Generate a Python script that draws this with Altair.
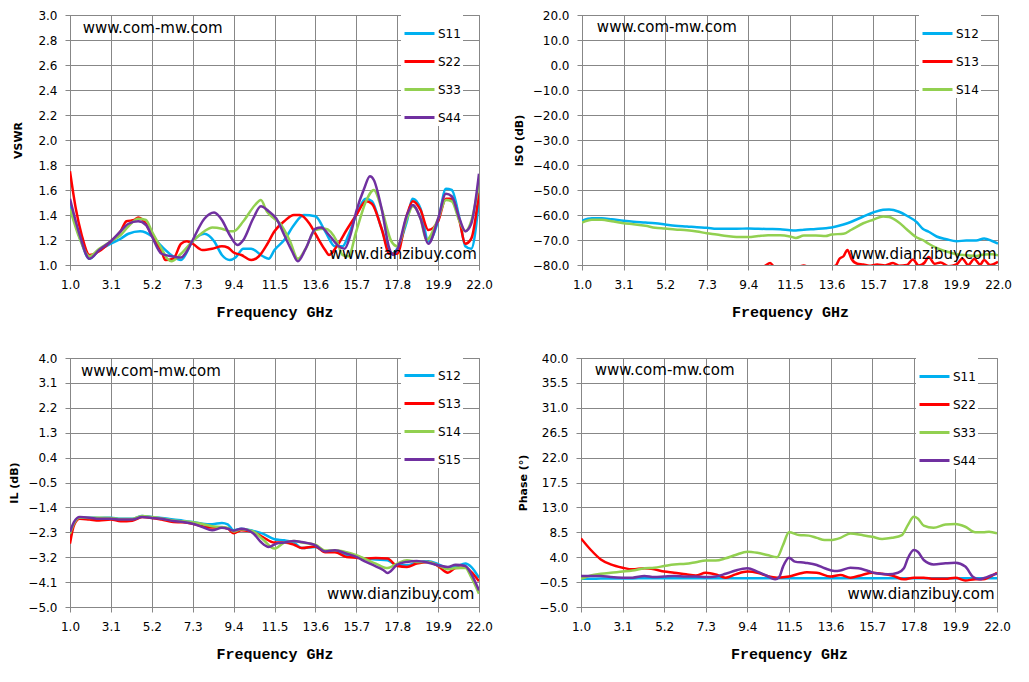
import altair as alt
import pandas as pd

# ---------------- axis ticks ----------------
X_TICKS = [1.0, 3.1, 5.2, 7.3, 9.4, 11.5, 13.6, 15.7, 17.8, 19.9, 22.0]
VSWR_TICKS = [1.0, 1.2, 1.4, 1.6, 1.8, 2.0, 2.2, 2.4, 2.6, 2.8, 3.0]
ISO_TICKS = [-80, -70, -60, -50, -40, -30, -20, -10, 0, 10, 20]
IL_TICKS = [-5.0, -4.1, -3.2, -2.3, -1.4, -0.5, 0.4, 1.3, 2.2, 3.1, 4.0]
PH_TICKS = [-5.0, -0.5, 4.0, 8.5, 13.0, 17.5, 22.0, 26.5, 31.0, 35.5, 40.0]

BLUE, RED, GREEN, PURPLE = "#00B0F0", "#FF0000", "#92D050", "#7030A0"

# ---------------- VSWR ----------------
VSWR_S11_F = [1.0, 1.5, 2.0, 2.5, 3.1, 3.6, 4.0, 4.6, 5.2, 5.7, 6.2, 6.7, 7.3, 7.9, 8.4, 8.8, 9.2, 9.5,
              9.9, 10.3, 10.9, 11.2, 11.5, 12.0, 12.5, 13.0, 13.6, 14.1, 14.6, 15.0, 15.3, 15.7, 16.2,
              16.5, 17.0, 17.5, 17.8, 18.3, 18.6, 19.0, 19.4, 19.9, 20.3, 20.6, 21.0, 21.3, 21.6, 22.0]
VSWR_S11 = [1.47, 1.22, 1.05, 1.12, 1.17, 1.21, 1.25, 1.27, 1.23, 1.15, 1.08, 1.04, 1.19, 1.25, 1.19,
            1.08, 1.04, 1.06, 1.13, 1.13, 1.07, 1.05, 1.12, 1.20, 1.32, 1.40, 1.39, 1.27, 1.15, 1.15,
            1.24, 1.40, 1.53, 1.51, 1.29, 1.09, 1.13, 1.35, 1.53, 1.45, 1.19, 1.35, 1.61, 1.60, 1.37,
            1.15, 1.13, 1.52]
VSWR_S22_F = [1.0, 1.3, 1.6, 2.0, 2.5, 3.1, 3.6, 3.9, 4.3, 4.5, 4.9, 5.2, 5.7, 5.9, 6.3, 6.7, 7.0, 7.3,
              7.8, 8.3, 8.8, 9.1, 9.4, 9.8, 10.3, 10.7, 11.1, 11.5, 12.0, 12.5, 12.8, 13.3, 13.6, 14.1,
              14.3, 14.7, 15.2, 15.7, 16.2, 16.5, 17.0, 17.4, 17.8, 18.3, 18.6, 19.0, 19.4, 19.9, 20.3,
              20.6, 21.0, 21.3, 21.6, 22.0]
VSWR_S22 = [1.75, 1.45, 1.24, 1.08, 1.11, 1.19, 1.27, 1.35, 1.36, 1.38, 1.33, 1.24, 1.11, 1.04, 1.05,
            1.17, 1.19, 1.17, 1.12, 1.13, 1.15, 1.14, 1.10, 1.08, 1.04, 1.07, 1.16, 1.27, 1.35, 1.40,
            1.40, 1.33, 1.25, 1.12, 1.08, 1.15, 1.28, 1.40, 1.51, 1.49, 1.29, 1.09, 1.09, 1.40, 1.51,
            1.44, 1.28, 1.35, 1.53, 1.53, 1.35, 1.17, 1.21, 1.58]
VSWR_S33_F = [1.0, 1.5, 2.0, 2.5, 3.1, 3.6, 4.0, 4.5, 4.9, 5.2, 5.7, 6.0, 6.2, 6.7, 7.3, 7.9, 8.3, 8.8,
              9.2, 9.4, 9.9, 10.5, 10.8, 11.1, 11.5, 11.8, 12.3, 12.7, 13.1, 13.6, 14.1, 14.7, 15.0,
              15.3, 15.7, 16.2, 16.6, 17.0, 17.5, 17.8, 18.3, 18.6, 19.0, 19.3, 19.9, 20.3, 20.6, 21.0,
              21.3, 21.6, 22.0]
VSWR_S33 = [1.45, 1.21, 1.07, 1.13, 1.19, 1.24, 1.31, 1.37, 1.36, 1.27, 1.13, 1.05, 1.03, 1.09, 1.19,
            1.27, 1.30, 1.29, 1.27, 1.27, 1.35, 1.48, 1.52, 1.43, 1.37, 1.33, 1.19, 1.05, 1.13, 1.28,
            1.29, 1.19, 1.08, 1.07, 1.27, 1.51, 1.60, 1.45, 1.19, 1.15, 1.37, 1.47, 1.37, 1.20, 1.37,
            1.52, 1.51, 1.35, 1.27, 1.35, 1.65]
VSWR_S44_F = [1.0, 1.5, 2.0, 2.5, 3.1, 3.6, 4.0, 4.5, 4.9, 5.2, 5.7, 6.2, 6.7, 7.0, 7.3, 7.9, 8.4, 8.8,
              9.2, 9.6, 9.9, 10.4, 10.8, 11.2, 11.6, 12.0, 12.4, 12.7, 13.1, 13.6, 13.9, 14.3, 14.8,
              15.1, 15.4, 15.7, 16.1, 16.4, 16.6, 17.0, 17.4, 17.6, 17.8, 18.3, 18.6, 19.0, 19.4, 19.9,
              20.3, 20.6, 21.0, 21.3, 21.6, 22.0]
VSWR_S44 = [1.53, 1.24, 1.05, 1.12, 1.19, 1.27, 1.33, 1.35, 1.32, 1.23, 1.09, 1.07, 1.06, 1.11, 1.20,
            1.37, 1.42, 1.36, 1.24, 1.16, 1.20, 1.37, 1.47, 1.43, 1.37, 1.24, 1.11, 1.03, 1.13, 1.29,
            1.30, 1.24, 1.15, 1.13, 1.24, 1.43, 1.61, 1.71, 1.68, 1.45, 1.13, 1.08, 1.12, 1.40, 1.48,
            1.37, 1.17, 1.37, 1.57, 1.55, 1.37, 1.27, 1.33, 1.73]

# ---------------- ISO ----------------
ISO_F = [1.0, 1.5, 2.0, 2.5, 3.1, 3.6, 4.2, 4.7, 5.2, 5.7, 6.3, 6.8, 7.3, 7.8, 8.3, 8.8, 9.4, 9.9, 10.4,
         11.0, 11.5, 11.8, 12.2, 12.8, 13.3, 13.6, 14.2, 14.6, 15.2, 15.7, 16.2, 16.5, 17.0, 17.4, 17.9,
         18.2, 18.5, 18.9, 19.4, 19.9, 20.4, 20.9, 21.3, 21.7, 22.0]
ISO_S12 = [-62.3, -61.3, -61.3, -61.7, -62.3, -62.7, -63.0, -63.3, -63.8, -64.3, -64.6, -64.9, -65.1,
           -65.5, -65.5, -65.5, -65.4, -65.5, -65.6, -65.7, -66.1, -66.2, -65.9, -65.6, -65.3, -65.0,
           -63.8, -62.7, -60.6, -59.0, -57.9, -57.8, -58.7, -60.3, -62.9, -65.5, -66.7, -68.6, -69.7,
           -70.5, -70.2, -70.2, -69.4, -70.4, -71.4]
ISO_S14 = [-63.0, -61.9, -61.9, -62.5, -63.3, -63.7, -64.3, -65.1, -65.4, -65.8, -66.1, -66.6, -67.3,
           -67.8, -68.4, -68.8, -68.8, -68.4, -68.1, -68.1, -68.6, -69.2, -68.2, -68.2, -68.4, -67.8,
           -67.5, -65.9, -63.3, -61.9, -60.6, -60.8, -63.0, -65.8, -69.0, -70.0, -71.5, -73.2, -74.6,
           -75.7, -76.1, -76.4, -75.8, -75.7, -76.1]
ISO_S13_F = [1.0, 3.0, 5.0, 7.0, 9.0, 9.9, 10.2, 10.5, 10.7, 11.5, 12.2, 12.5, 13.3, 13.8, 14.0, 14.2,
             14.4, 14.6, 14.9, 15.2, 15.5, 15.9, 16.3, 16.7, 17.0, 17.4, 17.7, 18.0, 18.3, 18.5, 18.8,
             19.1, 19.5, 19.9, 20.2, 20.5, 20.8, 21.1, 21.3, 21.6, 22.0]
ISO_S13 = [-86.0, -88.0, -86.0, -87.0, -85.0, -81.0, -80.5, -79.2, -80.8, -82.0, -80.2, -81.0, -81.0,
           -80.3, -77.5, -76.5, -74.0, -77.5, -79.5, -79.8, -80.3, -79.8, -80.2, -79.2, -80.3, -80.0,
           -77.8, -80.2, -79.0, -76.8, -79.5, -79.0, -80.5, -79.8, -77.5, -80.0, -77.6, -79.8, -78.0,
           -80.0, -78.7]

# ---------------- IL ----------------
IL_F = [1.0, 1.2, 1.5, 2.0, 2.5, 3.1, 3.6, 4.2, 4.7, 5.2, 5.7, 6.3, 6.8, 7.3, 7.8, 8.3, 8.8, 9.1, 9.4,
        9.8, 10.4, 10.9, 11.5, 12.0, 12.5, 12.9, 13.6, 14.1, 14.6, 15.2, 15.7, 16.2, 16.7, 17.3, 17.8,
        18.3, 18.8, 19.4, 19.9, 20.4, 20.8, 21.3, 21.6, 22.0]
IL_S12 = [-2.41, -1.99, -1.77, -1.77, -1.78, -1.77, -1.81, -1.81, -1.71, -1.75, -1.78, -1.84, -1.88,
          -1.93, -1.99, -2.01, -1.96, -2.01, -2.23, -2.17, -2.25, -2.35, -2.55, -2.59, -2.67, -2.87,
          -2.83, -2.99, -2.98, -3.11, -3.19, -3.25, -3.28, -3.31, -3.49, -3.49, -3.40, -3.35, -3.45,
          -3.59, -3.55, -3.43, -3.55, -3.95]
IL_S13 = [-2.71, -2.05, -1.81, -1.84, -1.87, -1.84, -1.90, -1.88, -1.75, -1.78, -1.84, -1.93, -1.94,
          -1.99, -2.08, -2.13, -2.13, -2.17, -2.33, -2.23, -2.29, -2.47, -2.67, -2.67, -2.75, -2.87,
          -2.81, -3.02, -3.02, -3.19, -3.22, -3.25, -3.23, -3.25, -3.52, -3.55, -3.43, -3.37, -3.52,
          -3.76, -3.59, -3.57, -3.73, -4.07]
IL_S14 = [-2.35, -1.99, -1.77, -1.78, -1.77, -1.78, -1.82, -1.82, -1.71, -1.75, -1.80, -1.87, -1.90,
          -1.94, -2.00, -2.08, -2.11, -2.14, -2.27, -2.19, -2.27, -2.55, -2.89, -2.67, -2.61, -2.67,
          -2.75, -2.96, -2.95, -3.02, -3.13, -3.28, -3.43, -3.59, -3.43, -3.31, -3.37, -3.37, -3.49,
          -3.64, -3.59, -3.59, -3.92, -4.52]
IL_S15_F = [1.0, 1.2, 1.5, 2.0, 2.5, 3.1, 3.6, 4.2, 4.7, 5.2, 5.7, 6.3, 6.8, 7.3, 7.8, 8.3, 8.8, 9.1,
            9.4, 9.8, 10.4, 10.8, 11.2, 11.6, 12.0, 12.5, 12.9, 13.6, 14.1, 14.6, 15.2, 15.7, 16.2,
            16.7, 17.1, 17.3, 17.8, 18.3, 18.8, 19.4, 19.9, 20.4, 20.8, 21.3, 21.6, 22.0]
IL_S15 = [-2.29, -1.93, -1.75, -1.77, -1.81, -1.81, -1.84, -1.84, -1.75, -1.78, -1.81, -1.89, -1.93,
          -1.99, -2.11, -2.23, -2.14, -2.17, -2.24, -2.17, -2.33, -2.65, -2.83, -2.71, -2.67, -2.61,
          -2.65, -2.77, -2.99, -2.95, -3.07, -3.19, -3.37, -3.53, -3.67, -3.77, -3.47, -3.37, -3.34,
          -3.40, -3.49, -3.55, -3.47, -3.52, -3.80, -4.40]

# ---------------- Phase ----------------
PH_F = [1.0, 1.5, 2.0, 2.5, 3.1, 3.6, 4.2, 4.7, 5.2, 5.7, 6.3, 6.8, 7.3, 7.8, 8.3, 8.8, 9.4, 9.9, 10.4,
        10.9, 11.5, 12.0, 12.4, 12.9, 13.6, 14.1, 14.6, 15.2, 15.7, 16.2, 16.7, 17.3, 17.8, 18.3, 18.8,
        19.4, 19.9, 20.4, 20.9, 21.3, 21.6, 22.0]
PH_S11 = [0.1, 0.1, 0.15, 0.15, 0.15, 0.15, 0.2, 0.2, 0.2, 0.2, 0.2, 0.2, 0.2, 0.2, 0.2, 0.2, 0.2, 0.2,
          0.2, 0.2, 0.2, 0.2, 0.2, 0.2, 0.2, 0.2, 0.2, 0.2, 0.2, 0.2, 0.2, 0.2, 0.2, 0.2, 0.2, 0.2,
          0.2, 0.2, 0.2, 0.2, 0.2, 0.2]
PH_S22 = [7.4, 5.3, 3.6, 2.7, 2.1, 1.8, 2.0, 1.8, 1.4, 1.2, 0.9, 0.7, 1.2, 0.9, 0.3, 0.9, 1.4, 1.2, 0.6,
          0.3, 0.5, 1.0, 1.3, 1.2, 0.5, 0.8, 0.3, 0.8, 1.2, 1.0, 0.7, 0.0, 0.3, 0.3, 0.1, 0.1, 0.3,
          -0.2, 0.0, 0.0, 0.4, 1.2]
PH_S33_F = [1.0, 1.5, 2.0, 2.5, 3.1, 3.6, 4.2, 4.7, 5.2, 5.7, 6.3, 6.8, 7.3, 7.8, 8.3, 8.8, 9.4, 9.9,
            10.4, 10.9, 11.2, 11.5, 12.0, 12.5, 12.9, 13.3, 13.6, 14.1, 14.6, 15.2, 15.7, 16.2, 16.7,
            17.2, 17.5, 17.8, 18.0, 18.3, 18.8, 19.4, 19.9, 20.4, 20.9, 21.3, 21.6, 22.0]
PH_S33 = [0.1, 0.7, 1.0, 1.2, 1.4, 1.6, 2.0, 2.1, 2.4, 2.7, 2.8, 3.1, 3.4, 3.4, 3.8, 4.4, 5.0, 4.8, 4.4,
          4.0, 6.2, 8.5, 8.0, 7.9, 7.5, 7.1, 7.1, 7.5, 8.3, 8.0, 7.7, 7.3, 7.5, 8.0, 9.8, 11.3, 11.0,
          9.7, 9.3, 9.9, 10.0, 9.5, 8.5, 8.5, 8.6, 8.3]
PH_S44_F = [1.0, 1.5, 2.0, 2.5, 3.1, 3.6, 4.2, 4.7, 5.2, 5.7, 6.3, 6.8, 7.3, 7.8, 8.3, 8.8, 9.4, 9.9,
            10.4, 10.8, 11.0, 11.2, 11.5, 11.8, 12.3, 12.9, 13.3, 13.8, 14.1, 14.6, 15.0, 15.5, 15.9,
            16.5, 17.0, 17.3, 17.5, 17.8, 18.0, 18.3, 18.8, 19.4, 19.9, 20.4, 20.8, 21.1, 21.4, 21.7,
            22.0]
PH_S44 = [0.6, 0.6, 0.6, 0.4, 0.3, 0.3, 0.6, 0.4, 0.5, 0.6, 0.5, 0.5, 0.4, 0.5, 1.0, 1.6, 2.0, 1.4, 0.6,
          0.0, 0.4, 2.3, 3.9, 3.2, 3.0, 2.6, 2.0, 1.5, 1.6, 2.1, 2.0, 1.5, 1.1, 0.9, 1.2, 2.0, 3.8, 5.3,
          5.0, 3.5, 2.7, 2.9, 3.0, 2.3, 0.4, 0.0, 0.3, 0.7, 1.0]

WM_TOP = "www.com-mw.com"
WM_BOTTOM = "www.dianzibuy.com"

GRID = "#878787"
FONT = "DejaVu Sans"
MONO = "Liberation Mono, DejaVu Sans Mono, monospace"


def panel(series, y_title, y_domain, y_ticks, legend_xy, wm, width, height, title_pad):
    rows = []
    for name, fs, vs, _ in series:
        for f, v in zip(fs, vs):
            rows.append({"f": f, "v": v, "s": name})
    df = pd.DataFrame(rows)
    names = [s[0] for s in series]
    colors = [s[3] for s in series]
    x_enc = alt.X("f:Q", scale=alt.Scale(domain=[1.0, 22.0], nice=False, zero=False),
                  axis=alt.Axis(values=X_TICKS, format=".1f", title="Frequency GHz",
                                titleFont=MONO, titleFontWeight="bold",
                                titleFontSize=15, titlePadding=14, labelFlush=False,
                                labelOverlap=False, labelBound=False))
    y_enc = alt.Y("v:Q", scale=alt.Scale(domain=y_domain, nice=False, zero=False),
                  axis=alt.Axis(values=y_ticks, format=".1f", title=y_title,
                                titleFont=FONT, titleFontWeight="bold", titleFontSize=11,
                                titlePadding=title_pad, labelFlush=False, labelOverlap=False,
                                labelBound=False))
    lines = alt.Chart(df).mark_line(strokeWidth=2.5, interpolate="monotone", clip=True).encode(
        x=x_enc, y=y_enc,
        color=alt.Color("s:N", scale=alt.Scale(domain=names, range=colors),
                        legend=alt.Legend(orient="none", legendX=legend_xy[0], legendY=legend_xy[1],
                                          title=None, symbolType="stroke", symbolSize=900,
                                          symbolStrokeWidth=3, fillColor="white", padding=2,
                                          rowPadding=5, labelFont=FONT, labelFontSize=12,
                                          labelColor="black", labelOffset=2)),
    )
    wdf = pd.DataFrame({"f": [wm[0], wm[2]], "v": [wm[1], wm[3]], "t": [WM_TOP, WM_BOTTOM]})
    texts = alt.Chart(wdf).mark_text(align="left", baseline="middle", font=FONT, fontSize=15,
                                     color="black").encode(x=x_enc, y=y_enc, text="t:N")
    return alt.layer(lines, texts).properties(width=width, height=height)


p1 = panel([("S11", VSWR_S11_F, VSWR_S11, BLUE), ("S22", VSWR_S22_F, VSWR_S22, RED),
            ("S33", VSWR_S33_F, VSWR_S33, GREEN), ("S44", VSWR_S44_F, VSWR_S44, PURPLE)],
           "VSWR", [1.0, 3.0], VSWR_TICKS, (331, 0), (1.65, 2.90, 14.33, 1.09), 409, 250, 14)
p2 = panel([("S12", ISO_F, ISO_S12, BLUE), ("S13", ISO_S13_F, ISO_S13, RED),
            ("S14", ISO_F, ISO_S14, GREEN)],
           "ISO (dB)", [-80, 20], ISO_TICKS, (337, 0), (1.75, 15.1, 14.5, -75.7), 416, 250, 8)
p3 = panel([("S12", IL_F, IL_S12, BLUE), ("S13", IL_F, IL_S13, RED),
            ("S14", IL_F, IL_S14, GREEN), ("S15", IL_S15_F, IL_S15, PURPLE)],
           "IL (dB)", [-5.0, 4.0], IL_TICKS, (331, -1), (1.56, 3.54, 14.2, -4.52), 409, 249, 8)
p4 = panel([("S11", PH_F, PH_S11, BLUE), ("S22", PH_F, PH_S22, RED),
            ("S33", PH_S33_F, PH_S33, GREEN), ("S44", PH_S44_F, PH_S44, PURPLE)],
           "Phase (°)", [-5.0, 40.0], PH_TICKS, (335, 0), (1.69, 37.8, 14.45, -2.6), 416, 249, 10)

row1 = alt.hconcat(p1, p2, spacing=19).resolve_scale(color="independent").resolve_legend(color="independent")
row2 = alt.hconcat(p3, p4, spacing=24).resolve_scale(color="independent").resolve_legend(color="independent")
chart = alt.vconcat(row1, row2, spacing=31).resolve_scale(color="independent").resolve_legend(
    color="independent"
).configure(background="white", padding=0).configure_axis(
    grid=True, gridColor=GRID, gridWidth=1, gridOpacity=1, domainColor=GRID, tickColor=GRID,
    tickSize=5, labelFont=FONT, labelFontSize=12, labelColor="black", titleColor="black",
    labelPadding=8,
).configure_axisX(labelPadding=9).configure_view(stroke=GRID, strokeWidth=1)

chart.save("out.html", embed_options={"renderer": "svg", "actions": False})
